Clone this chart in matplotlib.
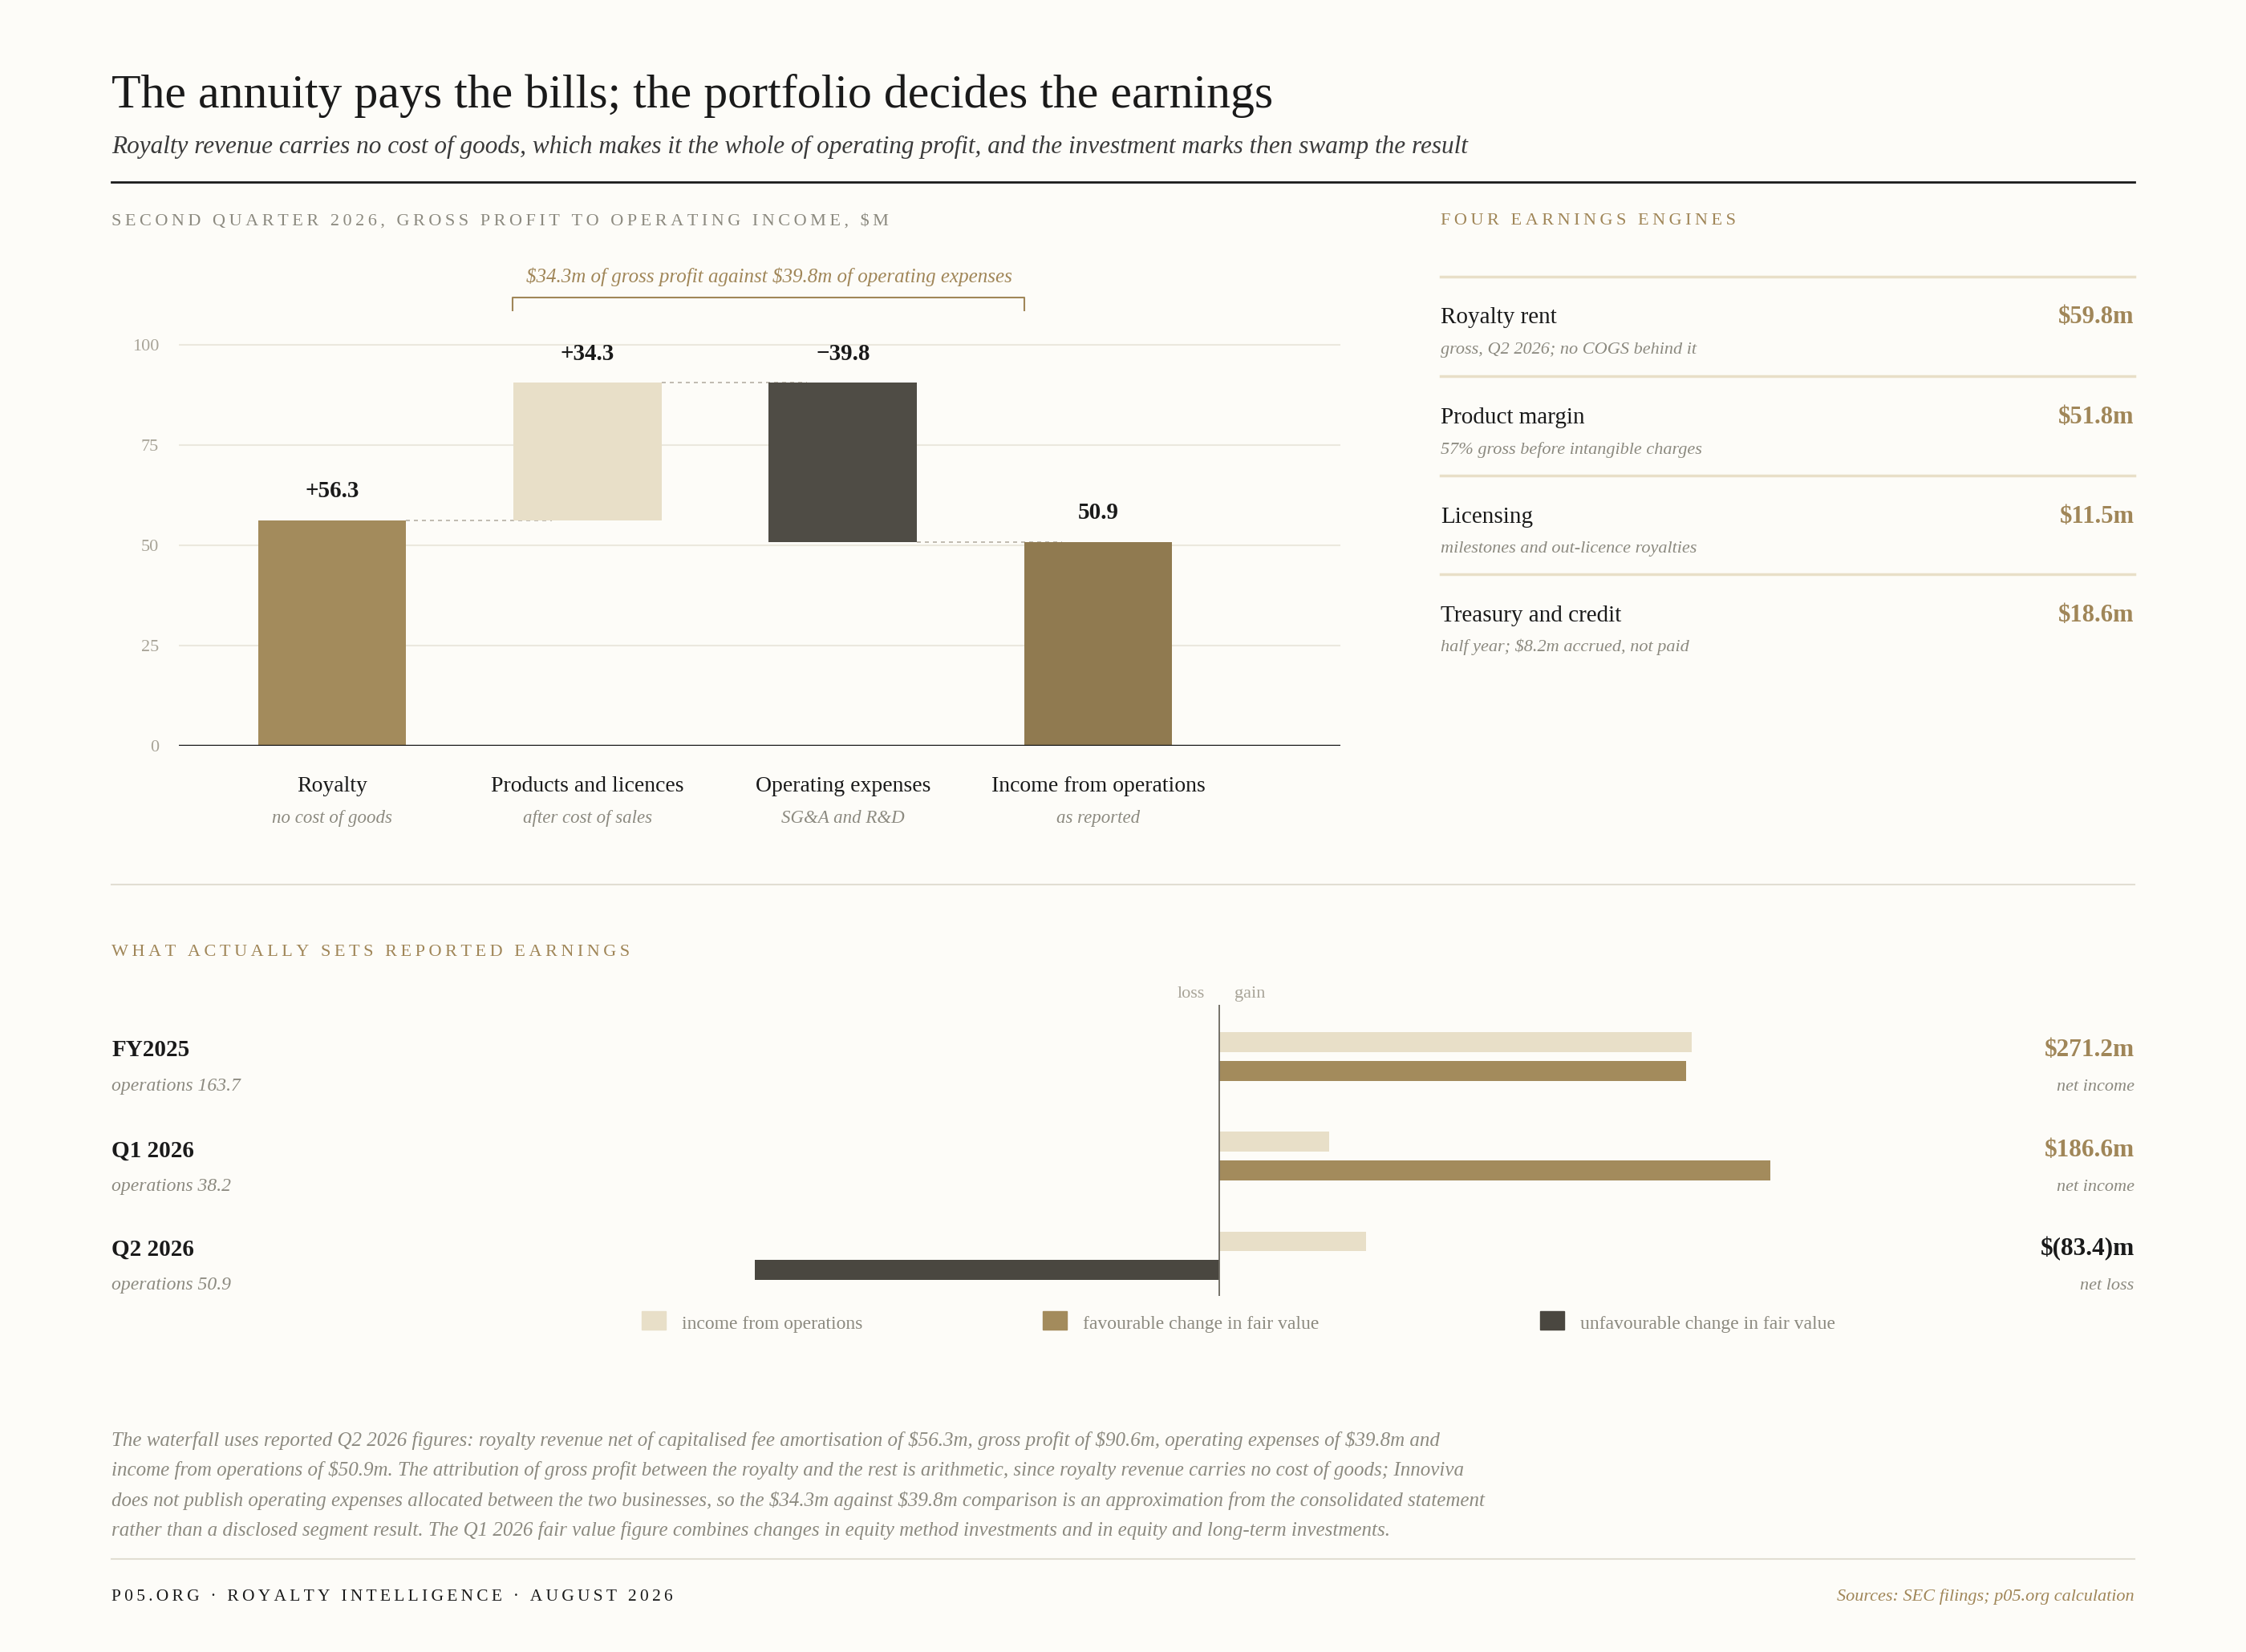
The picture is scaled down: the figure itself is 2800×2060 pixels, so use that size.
import matplotlib
matplotlib.use("Agg")
from matplotlib import pyplot as plt
from matplotlib.lines import Line2D
from matplotlib.patches import Rectangle

# waterfall, Q2 2026 $m
steps = ["Royalty", "Products and licences", "Operating expenses", "Income from operations"]
step_notes = ["no cost of goods", "after cost of sales", "SG&A and R&D", "as reported"]
step_values = [56.3, 34.3, -39.8, 50.9]
step_labels = ["+56.3", "+34.3", "\u221239.8", "50.9"]

# earnings engines
engines = ["Royalty rent", "Product margin", "Licensing", "Treasury and credit"]
engine_notes = ["gross, Q2 2026; no COGS behind it", "57% gross before intangible charges",
                "milestones and out-licence royalties", "half year; \\$8.2m accrued, not paid"]
engine_values = ["\\$59.8m", "\\$51.8m", "\\$11.5m", "\\$18.6m"]

# what sets reported earnings
periods = ["FY2025", "Q1 2026", "Q2 2026"]
operations = [163.7, 38.2, 50.9]
fair_value = [161.7, 191.0, -160.7]
net_income = ["\\$271.2m", "\\$186.6m", "\\$(83.4)m"]
net_note = ["net income", "net income", "net loss"]

BG = "#fdfcf8"
GOLD = "#a38b5c"
LIGHT = "#e8dfc8"
DARK = "#4f4c45"
INCOME = "#907a50"
LABEL = "#a08658"
GREY = "#8c8a80"
INK = "#1a1a1a"

plt.rcParams['font.family'] = ['Liberation Serif', 'DejaVu Serif']

W, H = 1568, 1154
fig = plt.figure(figsize=(28, 20.6), dpi=100, facecolor=BG)


def P(x, y):
    return x / W, 1 - y / H


def txt(x, y, s, **kw):
    kw.setdefault("va", "baseline")
    fig.text(*P(x, y), s, **kw)


def spaced(s):
    return "\u2009".join(s)


def hline(x0, x1, y, color, lw):
    fig.add_artist(Line2D([x0 / W, x1 / W], [1 - y / H, 1 - y / H], color=color, lw=lw,
                          transform=fig.transFigure))


txt(78, 75, "The annuity pays the bills; the portfolio decides the earnings", fontsize=43, color=INK)
txt(78, 107, "Royalty revenue carries no cost of goods, which makes it the whole of operating profit, "
    "and the investment marks then swamp the result", fontsize=22.5, style="italic", color="#3a3a3a")
hline(78, 1490, 127, INK, 2)

txt(78, 157, spaced("SECOND QUARTER 2026, GROSS PROFIT TO OPERATING INCOME, $M"), fontsize=16, color=GREY)
txt(1006, 157, spaced("FOUR EARNINGS ENGINES"), fontsize=16, color=LABEL)

# waterfall
ax = fig.add_axes([125 / W, 1 - 521 / H, (936 - 125) / W, (521 - 200) / H])
ax.set_facecolor(BG)
xs = list(range(len(steps)))
bottoms, heights = [], []
run = 0
for i, v in enumerate(step_values):
    if i == len(step_values) - 1:
        bottoms.append(0); heights.append(v)
    elif v >= 0:
        bottoms.append(run); heights.append(v); run += v
    else:
        bottoms.append(run + v); heights.append(-v); run += v
cols = [GOLD, LIGHT, DARK, INCOME]
ax.bar(xs, heights, bottom=bottoms, width=0.58, color=cols, zorder=3)
tops = [b + h for b, h in zip(bottoms, heights)]
for i, lab in enumerate(step_labels):
    ax.text(xs[i], tops[i] + 4.5, lab, ha="center", va="bottom", fontsize=21, fontweight="bold", color=INK)
# connectors
levels = [56.3, 56.3 + 34.3, 56.3 + 34.3 - 39.8]
for i, lv in enumerate(levels):
    ax.plot([xs[i] + 0.29, xs[i + 1] - 0.29 + 0.15], [lv, lv], color="#b5b0a5", lw=1.2, ls=(0, (3, 3)), zorder=2)
for t in [25, 50, 75, 100]:
    ax.axhline(t, color="#ebe8de", lw=1.5, zorder=1)
ax.axhline(0, color=INK, lw=2.5, zorder=4)
ax.set_xlim(-0.6, 3.95)
ax.set_ylim(0, 114.6)
ax.set_yticks([0, 25, 50, 75, 100])
ax.tick_params(axis="y", length=0, labelsize=16, labelcolor="#a8a498", pad=18)
ax.set_xticks([])
for s in ax.spines.values():
    s.set_visible(False)
for i in xs:
    ax.text(i, -7.5, steps[i], ha="center", va="top", fontsize=20, color=INK)
    ax.text(i, -16, step_notes[i], ha="center", va="top", fontsize=16.5, style="italic", color=GREY)
# bracket
bx0, bx1 = 358, 715
fig.add_artist(Line2D([bx0 / W, bx0 / W, bx1 / W, bx1 / W],
                      [1 - 217 / H, 1 - 208 / H, 1 - 208 / H, 1 - 217 / H],
                      color=LABEL, lw=1.5, transform=fig.transFigure))
txt(537, 197, "\\$34.3m of gross profit against \\$39.8m of operating expenses", ha="center",
    fontsize=18, style="italic", color=LABEL)

# engines list
ys = [193, 263, 332, 401]
for i, y in enumerate(ys):
    hline(1006, 1490, y, LIGHT, 2.5)
    txt(1006, y + 33, engines[i], fontsize=21, color=INK)
    txt(1006, y + 54, engine_notes[i], fontsize=16, style="italic", color=GREY)
    txt(1490, y + 33, engine_values[i], ha="right", fontsize=22, fontweight="bold", color=LABEL)

hline(78, 1490, 618, "#e2ded3", 1.5)
txt(78, 668, spaced("WHAT ACTUALLY SETS REPORTED EARNINGS"), fontsize=16, color=LABEL)

# bars
bx = fig.add_axes([400 / W, 1 - 905 / H, 900 / W, 203 / H])
bx.set_facecolor("none")
n = len(periods)
yi = list(range(n))
bx.barh([y - 0.144 for y in yi], operations, height=0.2, color=LIGHT)
fcols = [GOLD if v >= 0 else "#4a4740" for v in fair_value]
bx.barh([y + 0.144 for y in yi], fair_value, height=0.2, color=fcols)
bx.axvline(0, color="#6a675f", lw=1.3)
bx.set_xlim(-223.7, 222.7)
bx.set_ylim(2.40, -0.518)
bx.axis("off")
txt(841, 697, "loss", ha="right", fontsize=16, color="#a8a498")
txt(862, 697, "gain", ha="left", fontsize=16, color="#a8a498")
rows = [738, 808, 877]
for i, y in enumerate(rows):
    txt(78, y, periods[i], fontsize=21, fontweight="bold", color=INK)
    txt(78, y + 24, "operations %.1f" % operations[i], fontsize=17, style="italic", color=GREY)
    txt(1490, y, net_income[i], ha="right", fontsize=22.5, fontweight="bold",
        color=LABEL if i < 2 else INK)
    txt(1490, y + 24, net_note[i], ha="right", fontsize=16, style="italic", color=GREY)

# legend
for x, c, lab in [(448, LIGHT, "income from operations"), (728, GOLD, "favourable change in fair value"),
                  (1075, "#4a4740", "unfavourable change in fair value")]:
    fig.add_artist(Rectangle(P(x, 929), 17 / W, 13 / H, color=c, transform=fig.transFigure))
    txt(x + 28, 928, lab, fontsize=17, color=GREY)

notes = ["The waterfall uses reported Q2 2026 figures: royalty revenue net of capitalised fee amortisation of \\$56.3m, gross profit of \\$90.6m, operating expenses of \\$39.8m and",
         "income from operations of \\$50.9m. The attribution of gross profit between the royalty and the rest is arithmetic, since royalty revenue carries no cost of goods; Innoviva",
         "does not publish operating expenses allocated between the two businesses, so the \\$34.3m against \\$39.8m comparison is an approximation from the consolidated statement",
         "rather than a disclosed segment result. The Q1 2026 fair value figure combines changes in equity method investments and in equity and long-term investments."]
for i, line in enumerate(notes):
    txt(78, 1010 + 21 * i, line, fontsize=18, style="italic", color=GREY)
hline(78, 1490, 1089, "#e2ded3", 1.5)
txt(78, 1118, spaced("P05.ORG \u00b7 ROYALTY INTELLIGENCE \u00b7 AUGUST 2026"), fontsize=15.5, color=INK)
txt(1490, 1118, "Sources: SEC filings; p05.org calculation", ha="right", fontsize=16, style="italic", color=LABEL)

fig.savefig("out.png", facecolor=BG)
